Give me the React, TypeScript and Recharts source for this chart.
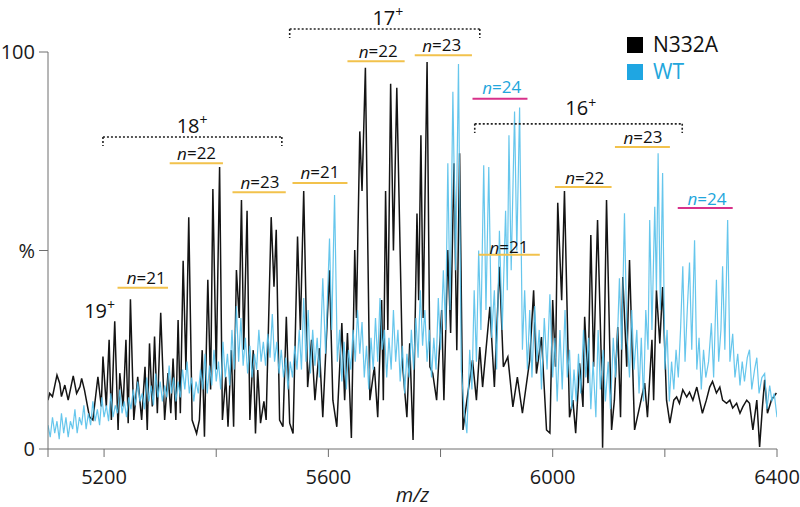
import React from 'react';
import { LineChart, Line, XAxis, YAxis, ReferenceLine, ReferenceDot } from 'recharts';

// m/z, relative intensity (%)
const N332A_TRACE: number[][] = [
  [5100, 12.3], [5103, 14], [5108, 13.2], [5116, 18.6], [5121, 16.5], [5124, 13.2], [5130, 16.1], [5136, 12.3],
  [5145, 18.4], [5151, 14], [5157, 15.7], [5160, 17.8], [5165, 14.9], [5174, 8.1], [5180, 7.3], [5189, 18.2],
  [5195, 10.7], [5198, 23.3], [5204, 10.7], [5209, 27.5], [5213, 7.3], [5219, 32.2], [5225, 4.8], [5228, 19.1],
  [5234, 10.7], [5239, 27.5], [5243, 6.5], [5247, 37.7], [5253, 7.3], [5260, 18.2], [5267, 7.3], [5273, 20.7],
  [5277, 4.8], [5281, 26.6], [5286, 10.7], [5290, 28.3], [5295, 9], [5301, 34.3], [5308, 7.3], [5314, 19.1],
  [5319, 9], [5323, 22.8], [5328, 7.3], [5332, 32.5], [5336, 9], [5341, 47.4], [5346, 19.9], [5351, 58.4],
  [5357, 7.3], [5365, 3.9], [5370, 7.3], [5375, 24.9], [5379, 3.1], [5385, 42.6], [5390, 15], [5394, 65.5],
  [5400, 20], [5406, 71], [5411, 7.3], [5417, 18.2], [5421, 5.6], [5427, 24.9], [5431, 5.6], [5436, 45.1],
  [5441, 33], [5445, 62.7], [5449, 25], [5455, 60], [5460, 7.3], [5466, 24.9], [5470, 3.9], [5474, 19.9],
  [5479, 6.5], [5485, 12], [5489, 7.3], [5498, 58.4], [5503, 40.9], [5507, 55.2], [5513, 7.3], [5519, 5.6],
  [5525, 33.3], [5531, 6.5], [5537, 3.9], [5545, 53.5], [5550, 30], [5556, 65], [5563, 15.6], [5570, 27.5],
  [5576, 12.3], [5584, 25.4], [5590, 8], [5602, 45], [5608, 12.3], [5615, 5.6], [5624, 31.7], [5629, 12.3],
  [5634, 29.2], [5641, 2.8], [5647, 50.1], [5650, 33], [5656, 80], [5660, 65], [5666, 96], [5674, 12.3],
  [5682, 20.7], [5688, 8], [5695, 37.5], [5698, 12.3], [5702, 65], [5706, 30], [5711, 92], [5716, 50],
  [5722, 91], [5732, 21.6], [5740, 8], [5745, 26.6], [5751, 2.3], [5758, 59.3], [5761, 37.5], [5765, 79],
  [5769, 33], [5776, 97.5], [5781, 20.7], [5786, 19.1], [5793, 12.3], [5802, 35], [5806, 12.3], [5813, 50.1],
  [5818, 29.2], [5824, 72], [5829, 24.9], [5834, 74.5], [5840, 4.8], [5847, 12.3], [5857, 22.4], [5864, 12.3],
  [5870, 25.7], [5875, 15.6], [5888, 35.8], [5896, 15.6], [5905, 45.9], [5912, 20.7], [5920, 23.2], [5929, 10.6],
  [5937, 18.1], [5946, 9], [5959, 22.4], [5966, 40], [5971, 19], [5980, 28.2], [5989, 4.8], [5995, 4],
  [6000, 37.5], [6005, 20.7], [6009, 62], [6016, 37.5], [6021, 65], [6030, 8], [6036, 12.3], [6041, 4],
  [6048, 21.6], [6054, 10.6], [6057, 33.3], [6063, 16.6], [6068, 53.9], [6073, 20.7], [6080, 57.7], [6087, 20.7],
  [6089, 0.3], [6096, 62.7], [6105, 4.8], [6110, 12.3], [6116, 30.7], [6121, 8], [6125, 43.3], [6132, 20.7],
  [6137, 47.6], [6146, 4.8], [6155, 10.6], [6164, 16.6], [6169, 8], [6177, 27.5], [6180, 12.3], [6185, 40],
  [6191, 26.6], [6196, 40.8], [6203, 12.3], [6209, 6.5], [6216, 12.3], [6221, 13.1], [6226, 11.5], [6232, 14.9],
  [6239, 13.1], [6244, 14.3], [6250, 12.3], [6257, 15.6], [6262, 12.3], [6267, 9], [6274, 12.3], [6280, 15.6],
  [6285, 17], [6292, 14.1], [6298, 15.6], [6303, 12.3], [6310, 11.5], [6316, 12.3], [6321, 10.3], [6328, 11.5],
  [6334, 9], [6339, 10.6], [6346, 12.3], [6351, 11.5], [6357, 4.8], [6364, 12.3], [6369, 0.5], [6374, 10.6],
  [6378, 17.4], [6383, 9], [6390, 12.3], [6399, 14.1],
];

const WT_TRACE: number[][] = [
  [5100, 6], [5104, 3], [5108, 8], [5112, 4], [5116, 7], [5120, 2.5], [5124, 9], [5128, 4], [5132, 8], [5136, 3],
  [5140, 7], [5144, 5], [5148, 10], [5152, 4], [5156, 8], [5160, 6], [5164, 11], [5168, 5], [5172, 9], [5176, 6],
  [5180, 12], [5184, 7], [5188, 10], [5192, 6], [5196, 13], [5200, 8], [5204, 11], [5208, 7], [5212, 14], [5216, 8],
  [5220, 11], [5224, 9], [5228, 15], [5232, 9], [5236, 12], [5240, 8], [5244, 13], [5248, 10], [5252, 15], [5256, 11],
  [5260, 17], [5264, 12], [5268, 14], [5272, 10], [5276, 18], [5280, 12], [5284, 16], [5288, 11], [5292, 19], [5296, 13],
  [5300, 17], [5304, 12], [5308, 16], [5312, 13], [5316, 21], [5320, 14], [5324, 18], [5328, 12], [5332, 17], [5336, 13],
  [5340, 20], [5344, 15], [5348, 22], [5352, 14], [5356, 18], [5360, 12], [5364, 17], [5368, 14], [5372, 20], [5376, 15],
  [5380, 24], [5384, 14], [5388, 21], [5392, 16], [5396, 25], [5400, 17], [5404, 22], [5408, 15], [5412, 27], [5416, 18],
  [5420, 24], [5424, 16], [5428, 30], [5432, 20], [5436, 36], [5440, 22], [5444, 33], [5448, 21], [5452, 28], [5456, 19],
  [5460, 26], [5464, 18], [5468, 24], [5472, 20], [5476, 30], [5480, 22], [5484, 27], [5488, 21], [5492, 29], [5496, 23],
  [5500, 34], [5504, 22], [5508, 27], [5512, 19], [5516, 25], [5520, 18], [5524, 23], [5528, 15], [5532, 22], [5536, 18],
  [5540, 26], [5544, 20], [5548, 30], [5552, 20], [5556, 38], [5560, 22], [5564, 35], [5568, 19], [5572, 30], [5576, 21],
  [5580, 28], [5584, 18], [5590, 43], [5595, 24], [5602, 53], [5606, 30], [5611, 64], [5616, 22], [5620, 30], [5624, 17],
  [5628, 27], [5632, 15], [5636, 25], [5640, 20], [5644, 30], [5648, 22], [5652, 35], [5656, 24], [5660, 32], [5664, 18],
  [5668, 26], [5672, 15], [5676, 28], [5680, 20], [5684, 33], [5688, 22], [5692, 38], [5696, 25], [5700, 30], [5704, 18],
  [5708, 28], [5712, 20], [5716, 35], [5720, 22], [5724, 30], [5728, 17], [5732, 26], [5736, 14], [5740, 24], [5744, 18],
  [5748, 30], [5752, 20], [5756, 33], [5760, 23], [5764, 40], [5768, 26], [5772, 35], [5776, 22], [5780, 30], [5784, 18],
  [5788, 28], [5792, 20], [5796, 38], [5800, 25], [5805, 45], [5809, 30], [5813, 72], [5817, 35], [5822, 90], [5827, 45],
  [5832, 97], [5837, 20], [5842, 10], [5847, 4], [5852, 25], [5856, 15], [5860, 40], [5864, 22], [5868, 50], [5872, 30],
  [5877, 71.5], [5881, 35], [5886, 71], [5891, 28], [5896, 40], [5900, 20], [5905, 55], [5910, 30], [5916, 60], [5919, 40],
  [5922, 79], [5926, 45], [5932, 85], [5936, 50], [5941, 86], [5946, 25], [5950, 40], [5955, 20], [5959, 35], [5963, 18],
  [5968, 36], [5972, 22], [5976, 30], [5980, 15], [5985, 33], [5990, 20], [5995, 39], [6000, 18], [6004, 28], [6008, 12],
  [6013, 30], [6017, 15], [6022, 35], [6026, 18], [6030, 25], [6034, 10], [6038, 20], [6042, 12], [6046, 24], [6050, 14],
  [6055, 30], [6059, 18], [6064, 28], [6068, 10], [6072, 22], [6077, 8], [6081, 30], [6085, 15], [6090, 25], [6094, 12],
  [6099, 22], [6103, 10], [6108, 28], [6112, 18], [6116, 30], [6119, 43], [6123, 25], [6128, 59.4], [6132, 30], [6137, 18],
  [6141, 35], [6145, 20], [6150, 30], [6154, 14], [6158, 28], [6162, 12], [6166, 35], [6170, 25], [6173, 57.7], [6177, 30],
  [6182, 61], [6185, 40], [6188, 74.5], [6192, 35], [6196, 69.5], [6200, 20], [6204, 30], [6208, 12], [6212, 22], [6216, 15],
  [6220, 25], [6224, 18], [6228, 30], [6232, 46], [6236, 22], [6240, 35], [6244, 47], [6248, 25], [6253, 52.6], [6257, 20],
  [6261, 28], [6265, 15], [6269, 25], [6273, 18], [6278, 22], [6283, 31.7], [6287, 18], [6292, 42.6], [6296, 22], [6300, 30],
  [6303, 46], [6307, 25], [6312, 57.7], [6316, 22], [6321, 29], [6325, 18], [6330, 24], [6334, 16], [6338, 22], [6342, 17],
  [6347, 23], [6351, 25], [6355, 15], [6360, 20], [6364, 23], [6368, 14], [6373, 18], [6378, 19], [6382, 10], [6387, 16],
  [6391, 12], [6395, 14], [6400, 8],
];

const X_TICKS = [5100, 5200, 5400, 5600, 5800, 6000, 6200, 6400];
const X_LABELED = [5200, 5600, 6000, 6400];
const Y_TICKS = [0, 50, 100];

// adduct-count labels: [mz, %, text, series]
const N_LABELS: [number, number, string, string][] = [
  [5275, 43.3, '21', 'N332A'],
  [5365, 74.6, '22', 'N332A'],
  [5478, 67.3, '23', 'N332A'],
  [5585, 69.8, '21', 'N332A'],
  [5689, 100.3, '22', 'N332A'],
  [5802, 101.8, '23', 'N332A'],
  [5909, 91.2, '24', 'WT'],
  [5922, 50.9, '21', 'N332A'],
  [6057, 68.5, '22', 'N332A'],
  [6161, 78.6, '23', 'N332A'],
  [6275, 63.2, '24', 'WT'],
];

// underline under each label: [mzStart, mzEnd, %, series]
const UNDERLINES: [number, number, number, string][] = [
  [5224, 5314, 40.6, 'N332A'],
  [5317, 5412, 72, 'N332A'],
  [5429, 5524, 64.7, 'N332A'],
  [5536, 5634, 67, 'N332A'],
  [5634, 5736, 97.7, 'N332A'],
  [5754, 5856, 99.2, 'N332A'],
  [5857, 5955, 88.2, 'WT'],
  [5868, 5977, 48.9, 'N332A'],
  [6004, 6105, 66, 'N332A'],
  [6111, 6209, 76.1, 'N332A'],
  [6223, 6321, 60.7, 'WT'],
];

// charge states: [mz, %, charge]
const CHARGES: [number, number, string][] = [
  [5192, 35, '19'],
  [5357, 81.6, '18'],
  [5706, 108.8, '17'],
  [6050, 85.9, '16'],
];

// dotted brackets: [mzStart, mzEnd, %]
const BRACKETS: [number, number, number][] = [
  [5198, 5517, 78.6],
  [5531, 5870, 105.8],
  [5861, 6231, 81.9],
];

const FONT = "'Open Sans', 'Liberation Sans', Arial, sans-serif";
const BLACK = '#141414';
const BLUE = '#55c0ea';
const BLUE_TEXT = '#22a6dc';
const GOLD = '#f2c24c';
const MAGENTA = '#d8318a';

const toPoints = (rows: number[][]) => rows.map(([mz, v]) => ({ mz, v }));

const NLabel = (props: any) => {
  const { cx, cy, value, color } = props;
  return (
    <text x={cx} y={cy} textAnchor="middle" dominantBaseline="central" fontSize={17} fill={color} fontFamily={FONT}>
      <tspan fontStyle="italic">n</tspan>={value}
    </text>
  );
};

const ChargeLabel = (props: any) => {
  const { cx, cy, value } = props;
  return (
    <text x={cx} y={cy} textAnchor="middle" dominantBaseline="central" fontSize={20} fill="#111" fontFamily={FONT}>
      {value}
      <tspan fontSize={14} dy={-6}>+</tspan>
    </text>
  );
};

const LegendBox = () => (
  <div style={{ position: 'absolute', left: 627, top: 31, fontFamily: FONT, fontSize: 21, lineHeight: '27px' }}>
    <div style={{ display: 'flex', alignItems: 'center' }}>
      <span style={{ width: 16, height: 16, background: '#000', marginRight: 10, display: 'inline-block' }} />
      <span style={{ color: '#111' }}>N332A</span>
    </div>
    <div style={{ display: 'flex', alignItems: 'center' }}>
      <span style={{ width: 16, height: 16, background: '#1fa6e2', marginRight: 10, display: 'inline-block' }} />
      <span style={{ color: BLUE_TEXT }}>WT</span>
    </div>
  </div>
);

export default function App() {
  const black = toPoints(N332A_TRACE);
  const wt = toPoints(WT_TRACE);

  return (
    <div style={{ position: 'absolute', left: 0, top: 0, width: 800, height: 507, background: '#fff' }}>
      <LineChart width={800} height={507} margin={{ top: 52, right: 23, bottom: 0, left: 0 }}>
        <XAxis
          dataKey="mz"
          type="number"
          domain={[5100, 6400]}
          allowDataOverflow
          ticks={X_TICKS}
          tickFormatter={(t: number) => (X_LABELED.includes(t) ? String(t) : '')}
          tickSize={8}
          tickMargin={13}
          height={58}
          stroke="#6e6e6e"
          tick={{ fill: '#1a1a1a', fontSize: 20, fontFamily: FONT }}
          label={{ value: 'm/z', position: 'insideBottom', offset: 5, fill: '#1a1a1a', fontSize: 20, fontStyle: 'italic', fontFamily: FONT }}
        />
        <YAxis
          type="number"
          domain={[0, 100]}
          ticks={Y_TICKS}
          tickFormatter={(t: number) => (t === 50 ? '%' : String(t))}
          width={48}
          tickSize={9}
          tickMargin={4}
          stroke="#6e6e6e"
          tick={{ fill: '#1a1a1a', fontSize: 20, fontFamily: FONT }}
        />

        <Line data={black} dataKey="v" type="linear" stroke={BLACK} strokeWidth={1.5} dot={false} isAnimationActive={false} name="N332A" />
        <Line data={wt} dataKey="v" type="linear" stroke={BLUE} strokeWidth={1.2} strokeOpacity={0.9} dot={false} isAnimationActive={false} name="WT" />

        {BRACKETS.map(([a, b, y], i) => (
          <React.Fragment key={`br-${i}`}>
            <ReferenceLine segment={[{ x: a, y }, { x: b, y }]} stroke="#222" strokeWidth={1.6} strokeDasharray="2 2" ifOverflow="visible" />
            <ReferenceLine segment={[{ x: a, y }, { x: a, y: y - 2.3 }]} stroke="#222" strokeWidth={1.6} strokeDasharray="2 2" ifOverflow="visible" />
            <ReferenceLine segment={[{ x: b, y }, { x: b, y: y - 2.3 }]} stroke="#222" strokeWidth={1.6} strokeDasharray="2 2" ifOverflow="visible" />
          </React.Fragment>
        ))}

        {UNDERLINES.map(([a, b, y, s], i) => (
          <ReferenceLine key={`ul-${i}`} segment={[{ x: a, y }, { x: b, y }]} stroke={s === 'WT' ? MAGENTA : GOLD} strokeWidth={2} ifOverflow="visible" />
        ))}

        {N_LABELS.map(([x, y, t, s], i) => (
          <ReferenceDot
            key={`nl-${i}`}
            x={x}
            y={y}
            r={0}
            ifOverflow="visible"
            shape={(p: any) => <NLabel {...p} value={t} color={s === 'WT' ? BLUE_TEXT : '#111'} />}
          />
        ))}

        {CHARGES.map(([x, y, t], i) => (
          <ReferenceDot
            key={`ch-${i}`}
            x={x}
            y={y}
            r={0}
            ifOverflow="visible"
            shape={(p: any) => <ChargeLabel {...p} value={t} />}
          />
        ))}
      </LineChart>
      <LegendBox />
    </div>
  );
}
